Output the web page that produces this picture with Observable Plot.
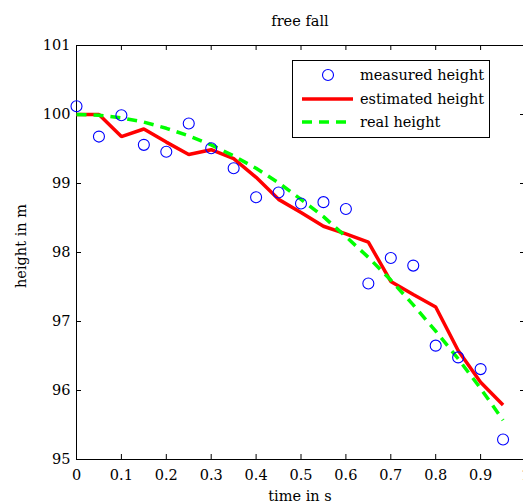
<!DOCTYPE html>
<html>
<head>
<meta charset="utf-8">
<script src="https://cdn.jsdelivr.net/npm/d3@7"></script>
<script src="https://cdn.jsdelivr.net/npm/@observablehq/plot@0.6"></script>
<style>
  html, body { margin: 0; padding: 0; background: #fff; }
  #chart { width: 523px; height: 503px; overflow: hidden; }
  #chart svg, #chart svg text { font-family: "DejaVu Serif", "Liberation Serif", serif !important; }
</style>
</head>
<body>
<div id="chart"></div>
<script>
// time in s
const time = [0, 0.05, 0.1, 0.15, 0.2, 0.25, 0.3, 0.35, 0.4, 0.45, 0.5, 0.55, 0.6, 0.65, 0.7, 0.75, 0.8, 0.85, 0.9, 0.95];
// measured height (blue circles)
const measured = [100.12, 99.68, 99.99, 99.56, 99.46, 99.87, 99.51, 99.22, 98.80, 98.87, 98.71, 98.73, 98.63, 97.55, 97.92, 97.81, 96.65, 96.48, 96.31, 95.29];
// estimated height (red line)
const estimated = [100.0, 100.0, 99.68, 99.79, 99.60, 99.42, 99.49, 99.36, 99.09, 98.77, 98.58, 98.38, 98.27, 98.15, 97.58, 97.39, 97.21, 96.58, 96.12, 95.79];
// real height (green dashed line)
const real = [100.0, 99.99, 99.95, 99.89, 99.80, 99.69, 99.56, 99.40, 99.22, 99.01, 98.77, 98.52, 98.23, 97.93, 97.60, 97.24, 96.86, 96.46, 96.03, 95.57];

const xTicks = [0, 0.1, 0.2, 0.3, 0.4, 0.5, 0.6, 0.7, 0.8, 0.9, 1];
const yTicks = [95, 96, 97, 98, 99, 100, 101];

const seriesNames = ["measured height", "estimated height", "real height"];
const subtitle = "free fall";
const xLabel = "time in s";
const yLabel = "height in m";

const data = time.map((t, i) => ({t, measured: measured[i], estimated: estimated[i], real: real[i]}));

const W = 523, H = 503;
const mL = 76, mT = 45, mB = 44, mR = -2;
const frameH = H - mT - mB;
const frameW = W - mL - 0;
const FONT = "DejaVu Serif, Liberation Serif, serif";
const FS = 14.5;

const plot = Plot.plot({
  width: W,
  height: H,
  marginLeft: mL,
  marginTop: mT,
  marginBottom: mB,
  marginRight: 0,
  style: {fontFamily: FONT, fontSize: FS + "px", color: "#000", background: "#fff"},
  x: {domain: [0, 1], range: [mL, W - mR]},
  y: {domain: [95, 101], range: [H - mB, mT]},
  marks: [
    // frame (right edge lies outside the picture)
    Plot.ruleY([95, 101], {stroke: "#000", strokeWidth: 1}),
    Plot.ruleX([0], {stroke: "#000", strokeWidth: 1}),
    // inward ticks
    Plot.tickX(xTicks, {x: d => d, insetTop: frameH - 5, stroke: "#000"}),
    Plot.tickX(xTicks, {x: d => d, insetBottom: frameH - 5, stroke: "#000"}),
    Plot.tickY(yTicks, {y: d => d, insetRight: frameW - 5, stroke: "#000"}),
    Plot.tickY(yTicks, {y: d => d, insetLeft: frameW - 3, stroke: "#000"}),
    // tick labels
    Plot.axisX(xTicks, {anchor: "bottom", tickSize: 0, tickPadding: 10, tickFormat: d => String(d), fontSize: FS, fontFamily: FONT, label: null}),
    Plot.axisY(yTicks, {anchor: "left", tickSize: 0, tickPadding: 6, tickFormat: d => String(d), fontSize: FS, fontFamily: FONT, label: null}),
    // data
    Plot.line(data, {x: "t", y: "estimated", stroke: "#ff0000", strokeWidth: 3.5, strokeLinejoin: "miter", strokeLinecap: "butt"}),
    Plot.line(data, {x: "t", y: "real", stroke: "#00ff00", strokeWidth: 3.5, strokeDasharray: "10,7", strokeLinecap: "butt"}),
    Plot.dot(data, {x: "t", y: "measured", r: 5.5, stroke: "#0000ff", strokeWidth: 1.1, fill: "none"})
  ]
});

const svg = d3.select(plot);
function addText(g, x, y, str, anchor, transform) {
  const t = g.append("text").attr("font-size", FS).attr("font-family", FONT)
    .attr("fill", "#000").attr("text-anchor", anchor).text(str);
  if (transform) t.attr("transform", transform); else t.attr("x", x).attr("y", y);
  return t;
}
// subtitle
addText(svg, 300, 26, subtitle, "middle");
// axis labels
addText(svg, 300, 501, xLabel, "middle");
addText(svg, 0, 0, yLabel, "middle", "translate(26,246) rotate(-90)");

// legend
const lg = svg.append("g");
lg.append("rect").attr("x", 292.5).attr("y", 60.5).attr("width", 197).attr("height", 77)
  .attr("fill", "#fff").attr("stroke", "#000").attr("stroke-width", 1);
const rows = [75, 99, 122];
lg.append("circle").attr("cx", 328).attr("cy", rows[0]).attr("r", 5.5)
  .attr("fill", "none").attr("stroke", "#0000ff").attr("stroke-width", 1.1);
lg.append("line").attr("x1", 302).attr("x2", 353).attr("y1", rows[1]).attr("y2", rows[1])
  .attr("stroke", "#ff0000").attr("stroke-width", 3.5);
lg.append("line").attr("x1", 302).attr("x2", 353).attr("y1", rows[2]).attr("y2", rows[2])
  .attr("stroke", "#00ff00").attr("stroke-width", 3.5).attr("stroke-dasharray", "10,7");
seriesNames.forEach((name, i) => {
  addText(lg, 360, rows[i] + 5, name, "start");
});

document.getElementById("chart").appendChild(plot);
</script>
</body>
</html>
